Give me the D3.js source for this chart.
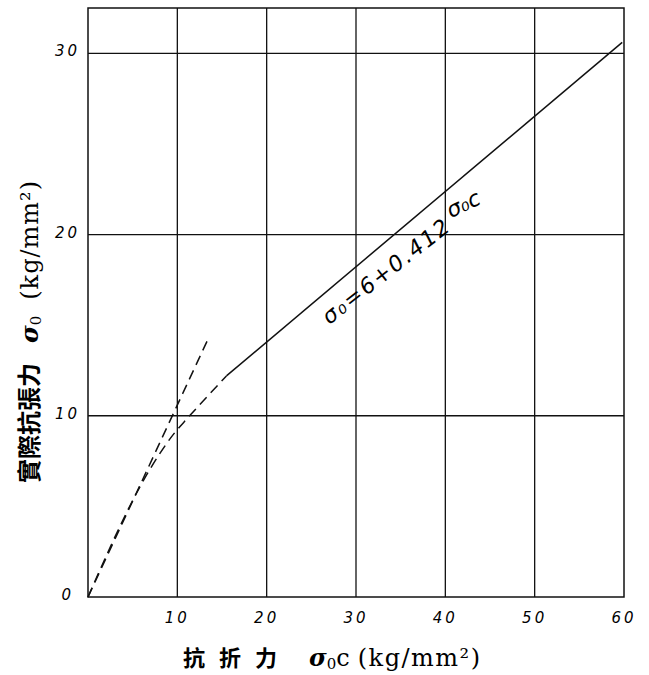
<!DOCTYPE html>
<html><head><meta charset="utf-8">
<script src="https://cdn.jsdelivr.net/npm/d3@7"></script>
<style>body{margin:0;background:#fff}svg{display:block}</style>
</head><body>
<svg id="c" width="649" height="675"></svg>
<script>
// ---- data ----
const xTicks = [10, 20, 30, 40, 50, 60];
const yTicks = [0, 10, 20, 30];
const xGrid = [10, 20, 30, 40, 50];
const yGrid = [10, 20, 30];
const steepLine = [[0, 0], [13.5, 14.3]];
const curveLine = [[0, 0], [7, 7.1], [9.6, 9.0], [11.2, 9.9], [15.5, 12.2]];
const fitLine = [[15.5, 12.2], [59.8, 30.6]];
const fitLabel = "σ₀=6+0.412";
const fitLabel2 = "σ₀c";
const labelPos = [27.0, 15.0];
const labelPos2 = [40.6, 20.9];

const svg = d3.select("#c");
const x = d3.scaleLinear().domain([0, 60]).range([88, 624]);
const y = d3.scaleLinear().domain([0, 32.5]).range([597, 8]);

// frame
svg.append("rect").attr("x", x(0)).attr("y", y(32.5))
  .attr("width", x(60) - x(0)).attr("height", y(0) - y(32.5))
  .attr("fill", "none").attr("stroke", "#111").attr("stroke-width", 1.5);

// grid
svg.selectAll(".vg").data(xGrid).join("line")
  .attr("x1", d => x(d)).attr("x2", d => x(d)).attr("y1", y(0)).attr("y2", y(32.5))
  .attr("stroke", "#111").attr("stroke-width", 1.3);
svg.selectAll(".hg").data(yGrid).join("line")
  .attr("x1", x(0)).attr("x2", x(60)).attr("y1", d => y(d)).attr("y2", d => y(d))
  .attr("stroke", "#111").attr("stroke-width", 1.3);

// tick labels
const tickFont = "'DejaVu Sans', sans-serif";
svg.selectAll(".xt").data(xTicks).join("text")
  .attr("x", d => x(d)).attr("y", 623)
  .attr("text-anchor", "middle")
  .attr("font-family", tickFont).attr("font-style", "italic").attr("font-size", 15)
  .attr("letter-spacing", 3).text(d => d);
svg.selectAll(".yt").data(yTicks).join("text")
  .attr("x", d => d === 0 ? 74 : 80).attr("y", d => y(d) + 3)
  .attr("text-anchor", "end")
  .attr("font-family", tickFont).attr("font-style", "italic").attr("font-size", 15)
  .attr("letter-spacing", 3).text(d => d);

// lines
const line = d3.line().x(d => x(d[0])).y(d => y(d[1])).curve(d3.curveMonotoneX);
svg.append("path").datum(steepLine).attr("d", line)
  .attr("fill", "none").attr("stroke", "#111").attr("stroke-width", 1.5).attr("stroke-dasharray", "10,6");
svg.append("path").datum(curveLine).attr("d", line)
  .attr("fill", "none").attr("stroke", "#111").attr("stroke-width", 1.5).attr("stroke-dasharray", "10,6");
svg.append("path").datum(fitLine).attr("d", line)
  .attr("fill", "none").attr("stroke", "#111").attr("stroke-width", 1.5);

// annotation
svg.append("text")
  .attr("transform", `translate(${x(labelPos[0])},${y(labelPos[1])}) rotate(-38)`)
  .attr("font-family", "'DejaVu Sans', sans-serif").attr("font-style", "italic")
  .attr("font-weight", 300).attr("font-size", 22).attr("letter-spacing", 2)
  .text(fitLabel);
svg.append("text")
  .attr("transform", `translate(${x(labelPos2[0])},${y(labelPos2[1])}) rotate(-25)`)
  .attr("font-family", "'DejaVu Sans', sans-serif").attr("font-style", "italic")
  .attr("font-weight", 300).attr("font-size", 22)
  .text(fitLabel2);

// x title
const serif = "'DejaVu Serif', serif";
const xt = svg.append("text").attr("x", 183).attr("y", 666).attr("text-anchor", "start")
  .attr("font-size", 22);
xt.append("tspan").attr("font-family", "'Noto Sans CJK TC', sans-serif").attr("font-weight", 700)
  .attr("letter-spacing", 14).text("抗折力");
xt.append("tspan").attr("font-family", serif).attr("dx", 18)
  .attr("font-style", "italic").attr("font-weight", 700).attr("font-size", 24).text("σ");
xt.append("tspan").attr("font-family", serif).attr("font-size", 15).attr("dy", 3).text("0");
xt.append("tspan").attr("font-family", serif).attr("font-size", 24).attr("dy", -3).text("c");
xt.append("tspan").attr("font-family", serif).attr("font-size", 24).attr("dx", 8)
  .attr("letter-spacing", 1.5).text("(kg/mm²)");

// y title
const yt = svg.append("text").attr("transform", "translate(38,483) rotate(-90)")
  .attr("text-anchor", "start").attr("font-size", 24);
yt.append("tspan").attr("font-family", "'Noto Sans CJK TC', sans-serif").attr("font-weight", 700)
  .text("實際抗張力");
yt.append("tspan").attr("font-family", serif).attr("dx", 20)
  .attr("font-style", "italic").attr("font-weight", 700).text("σ");
yt.append("tspan").attr("font-family", serif).attr("font-size", 15).attr("dy", 3).text("0");
yt.append("tspan").attr("font-family", serif).attr("dy", -3).attr("dx", 16)
  .attr("letter-spacing", 1).text("(kg/mm²)");
</script>
</body></html>
